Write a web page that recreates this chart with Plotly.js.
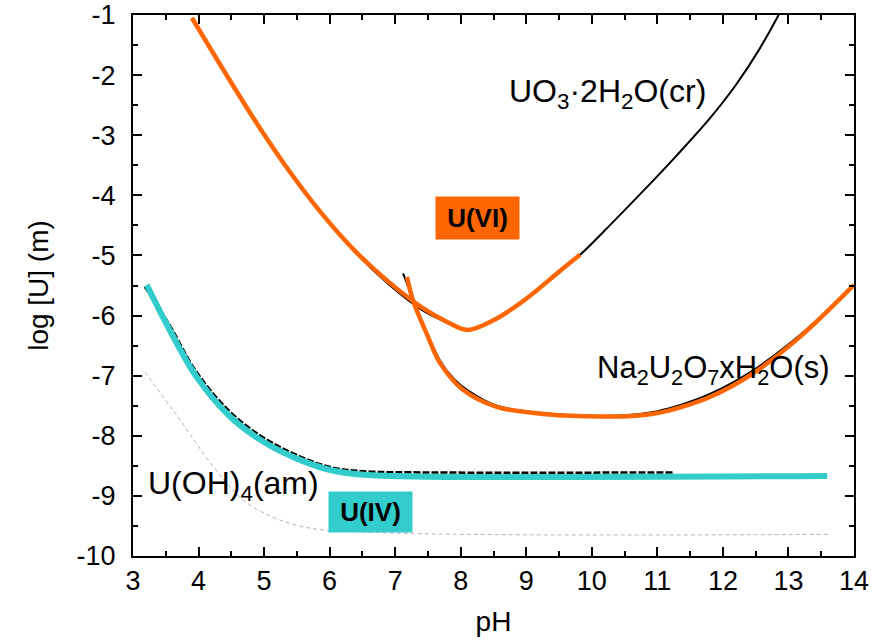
<!DOCTYPE html>
<html>
<head>
<meta charset="utf-8">
<script src="https://cdn.plot.ly/plotly-3.0.1.min.js"></script>
<style>html,body{margin:0;padding:0;background:#fff;}#chart{width:883px;height:642px;}</style>
</head>
<body>
<div id="chart"></div>
<script>
// UO3·2H2O(cr) solubility (black thin)
const uo3_pH   = [3.90, 4.40, 4.90, 5.40, 5.90, 6.40, 6.90, 7.40, 7.80, 8.10, 8.50, 9.00, 9.50, 9.82, 10.30, 10.80, 11.30, 11.80, 12.20, 12.55, 12.85];
const uo3_logU = [-1.05, -1.95, -2.82, -3.62, -4.33, -4.96, -5.48, -5.90, -6.12, -6.24, -6.08, -5.72, -5.27, -4.99, -4.47, -3.91, -3.33, -2.72, -2.16, -1.58, -1.00];

// U(VI) model curve, UO3 branch (orange)
const u6a_pH   = [3.90, 4.40, 4.90, 5.40, 5.90, 6.40, 6.90, 7.40, 7.80, 8.10, 8.50, 9.00, 9.50, 9.82];
const u6a_logU = [-1.05, -1.95, -2.82, -3.62, -4.33, -4.94, -5.44, -5.86, -6.11, -6.24, -6.08, -5.72, -5.27, -4.99];

// Na2U2O7·xH2O(s) solubility (black thin)
const na_pH   = [7.12, 7.27, 7.48, 7.69, 7.90, 8.10, 8.55, 9.31, 10.13, 10.60, 11.00, 11.40, 11.81, 12.42, 13.18, 14.00];
const na_logU = [-5.30, -5.72, -6.28, -6.76, -7.06, -7.24, -7.50, -7.63, -7.67, -7.65, -7.59, -7.47, -7.30, -6.94, -6.32, -5.50];

// U(VI) model curve, Na2U2O7 branch (orange)
const u6b_pH   = [7.18, 7.27, 7.48, 7.69, 8.04, 8.55, 9.31, 10.13, 10.60, 11.00, 11.40, 11.81, 12.42, 13.18, 14.00];
const u6b_logU = [-5.36, -5.74, -6.30, -6.80, -7.24, -7.52, -7.64, -7.68, -7.67, -7.62, -7.51, -7.35, -6.99, -6.35, -5.49];

// U(OH)4(am) solubility (black dashed)
const uoh_pH   = [3.18, 3.56, 3.97, 4.48, 4.99, 5.50, 6.01, 6.52, 7.53, 11.25];
const uoh_logU = [-5.52, -6.16, -6.94, -7.60, -8.03, -8.32, -8.52, -8.59, -8.61, -8.61];

// U(IV) model curve (cyan)
const u4_pH   = [3.21, 3.56, 3.97, 4.48, 4.99, 5.50, 6.01, 6.52, 7.53, 13.59];
const u4_logU = [-5.49, -6.24, -7.02, -7.68, -8.10, -8.38, -8.57, -8.65, -8.68, -8.67];

// lower bound curve (grey dotted)
const lo_pH   = [3.18, 3.72, 4.23, 4.74, 5.50, 6.52, 13.61];
const lo_logU = [-6.94, -7.74, -8.52, -9.12, -9.49, -9.60, -9.64];

const xTicks = [3,4,5,6,7,8,9,10,11,12,13,14];
const yTicks = [-10,-9,-8,-7,-6,-5,-4,-3,-2,-1];

const FONT = 'Liberation Sans, Arial, sans-serif';

const traces = [
  {x: lo_pH, y: lo_logU, mode:'lines', line:{color:'#b4b4b4', width:1, dash:'4px,3px', shape:'spline'}},
  {x: uo3_pH, y: uo3_logU, mode:'lines', line:{color:'#000', width:2, shape:'spline'}},
  {x: na_pH, y: na_logU, mode:'lines', line:{color:'#000', width:2, shape:'spline'}},
  {x: uoh_pH, y: uoh_logU, mode:'lines', line:{color:'#000', width:2.5, dash:'7px,2px', shape:'spline'}},
  {x: u6a_pH, y: u6a_logU, mode:'lines', line:{color:'#FF6600', width:4.5, shape:'spline'}},
  {x: u6b_pH, y: u6b_logU, mode:'lines', line:{color:'#FF6600', width:4.5, shape:'spline'}},
  {x: u4_pH, y: u4_logU, mode:'lines', line:{color:'#33CCCC', width:6, shape:'spline'}}
];

const axisCommon = {
  showgrid:false, zeroline:false, showline:true, linecolor:'#000', linewidth:2,
  mirror:'ticks', ticks:'inside', ticklen:9, tickwidth:1.5, tickcolor:'#000',
  tickfont:{family:FONT, size:27, color:'#000'},
  ticklabeloverflow:'allow',
  minor:{ticks:'inside', ticklen:5, tickwidth:1.5, tickcolor:'#000', showgrid:false}
};

const layout = {
  width:883, height:642,
  margin:{l:133, r:29, t:15, b:86},
  paper_bgcolor:'#fff', plot_bgcolor:'#fff',
  showlegend:false,
  font:{family:FONT, color:'#000'},
  xaxis: Object.assign({}, axisCommon, {
    range:[3,14], tickmode:'array', tickvals:xTicks, ticktext:xTicks.map(String),
    minor:Object.assign({}, axisCommon.minor, {dtick:0.5}),
    ticklabelstandoff:0,
    title:{text:'pH', font:{family:FONT, size:28, color:'#000'}, standoff:16}
  }),
  yaxis: Object.assign({}, axisCommon, {
    range:[-10,-1], tickmode:'array', tickvals:yTicks, ticktext:yTicks.map(String),
    minor:Object.assign({}, axisCommon.minor, {dtick:0.5}),
    ticklabelstandoff:10,
    title:{text:'log [U] (m)', font:{family:FONT, size:28, color:'#000'}, standoff:20}
  }),
  annotations:[
    {x:10.24, y:-2.30, xref:'x', yref:'y', text:'UO<sub>3</sub>·2H<sub>2</sub>O(cr)', showarrow:false,
     font:{family:FONT, size:32, color:'#000'}, xanchor:'center', yanchor:'middle'},
    {x:11.85, y:-6.91, xref:'x', yref:'y', text:'Na<sub>2</sub>U<sub>2</sub>O<sub>7</sub>xH<sub>2</sub>O(s)', showarrow:false,
     font:{family:FONT, size:31, color:'#000'}, xanchor:'center', yanchor:'middle'},
    {x:4.53, y:-8.82, xref:'x', yref:'y', text:'U(OH)<sub>4</sub>(am)', showarrow:false,
     font:{family:FONT, size:32, color:'#000'}, xanchor:'center', yanchor:'middle'},
    {x:8.26, y:-4.38, xref:'x', yref:'y', text:'<b>U(VI)</b>', showarrow:false,
     font:{family:FONT, size:26, color:'#000'}, bgcolor:'#FF6600', width:83, height:42, borderpad:0,
     xanchor:'center', yanchor:'middle'},
    {x:6.63, y:-9.27, xref:'x', yref:'y', text:'<b>U(IV)</b>', showarrow:false,
     font:{family:FONT, size:26, color:'#000'}, bgcolor:'#33CCCC', width:83, height:40, borderpad:0,
     xanchor:'center', yanchor:'middle'}
  ]
};

Plotly.newPlot('chart', traces, layout, {displayModeBar:false});
</script>
</body>
</html>
